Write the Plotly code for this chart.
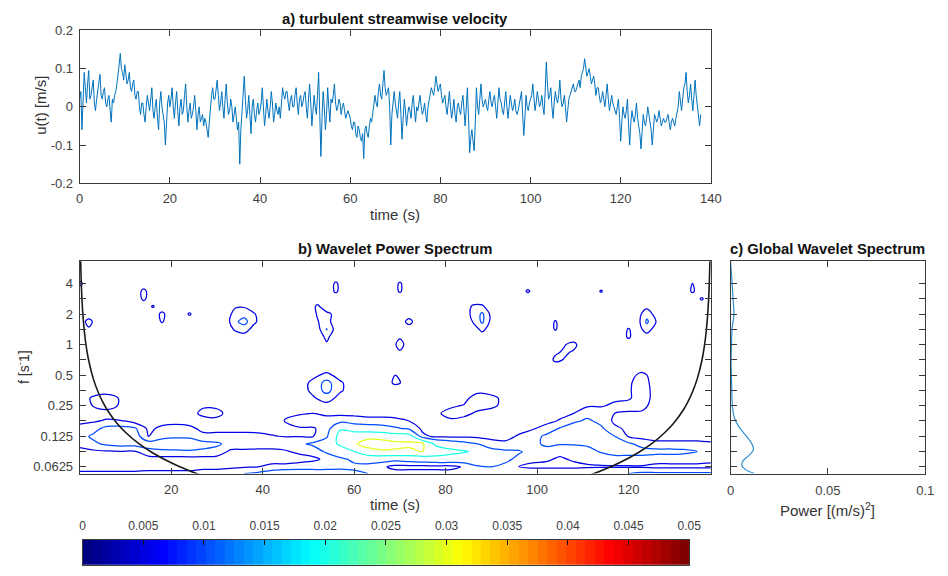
import numpy as np
import plotly.graph_objects as go

W, H = 948, 576

# ---------------- panel a: turbulent streamwise velocity (mm/s) ----------------
# samples at t = 0, 0.5, 1.0, ... s
u_mm_whole = [
    20, -60, 90, 10, 95, 30, 70, -10, 40, 85, 20, 50, 0, 30, -40, 10, 40, 80, 140, 90,
    110, 60, 90, 40, 70, 20, 40, -20, 10, -40, 30, -10, 50, -30, 20, -60, 40, -20, -100, 10,
    0, 50, -30, 40, -50, 20, -10, 60, -40, 10, -20, 30, -60, 0, -30, -50, -40, -80, 10, 50,
    20, 70, -10, 40, -30, 60, -20, 20, -40, 0, -60, -150, -20, 80, -30, 30, -70, 20, -40, 10,
    -10, 50, -50, 20, -30, 40, -40, 10, -20, -30, 50, 20, 40, -10, 30, 0, 50, -20, 30, 10,
    40, -30, 60, -50, 30, -20, 90, -130, 40, -60, 50, -40, 10, 60, -10, 20, -20, 10, -30, -10,
    -30, -60, -40, -80, -60, -90, -135, -50, -80, -30, -20, 30, 0, 60, 20, 95, 30, 50, -100, 20,
    10, -30, 40, -85, 20, -50, 0, -30, 30, -40, -10, 30, -20, 10, -40, 20, 50, 30, 80, 40,
    60, 10, 30, -20, 40, -30, 20, -40, 10, -20, 30, -50, 50, -120, -60, -115, 50, -20, 60, 0,
    20, -10, 40, 0, 30, -30, 50, 10, -20, 40, -30, 30, -10, 20, -20, 10, 40, -75, 30, -10,
    20, 60, -10, 40, 0, 30, -20, 117, 20, 50, -30, 40, 10, 70, 0, 30, -40, 20, 40, 60,
    40, 60, 50, 90, 126, 80, 100, 60, 80, 30, 50, 10, 40, 0, 60, -10, 30, 0, -20, 20,
    -90, 0, -30, 20, -100, -10, -40, 10, -50, -110, -20, -50, 0, -40, -100, -20, -40, -10, -50, -30,
    -40, -20, -60, -30, -50, -10, 40, -10, 50, 90, 10, 60, -10, 70, 0, -50,
]
# samples at t = 0.25, 0.75, 1.25, ... s
u_mm_half = [
    40, 30, 50, 60, 20, 50, 10, 20, 60, 30, 40, 10, 20, -10, 20, 30, 60, 110, 100, 70,
    80, 70, 50, 60, 30, 40, 0, 10, -20, 0, 10, 20, -10, 0, -30, 10, 0, -40, -20, 30,
    20, 0, 10, -10, 0, -20, 30, 0, -10, -30, 0, -10, -20, -40, -20, -30, -60, -40, 30, 20,
    40, 30, 10, 0, 20, 10, -10, 0, -20, -30, -40, -60, 30, 20, -10, -20, 0, -20, -10, -20,
    10, 0, -20, -10, 0, 10, -20, -10, 0, 10, 30, 40, 10, 20, 0, 30, 10, 20, 0, 30,
    0, 20, 10, -10, 0, 30, -20, -30, 0, -20, 0, 20, 30, 10, 0, 10, 0, -10, -20, -20,
    -50, -40, -70, -50, -80, -70, -60, -70, -50, -40, 0, 10, 40, 30, 60, 50, 40, 0, -20, 40,
    -10, 10, -20, -30, -10, -20, -10, 10, -10, 0, 10, 0, -10, -20, 0, 30, 40, 50, 60, 50,
    30, 20, 0, 10, 0, -10, -20, 0, -10, 10, -10, 0, -30, -80, -90, -40, 0, 20, 20, 10,
    0, 20, 10, 20, 0, 10, 20, -10, 10, 0, 0, 10, 0, -10, -10, 20, -20, -30, 0, 10,
    30, 20, 10, 20, 10, 0, 40, 60, 30, 0, 10, 20, 30, 20, 10, 0, -10, 30, 50, 40,
    50, 70, 80, 100, 100, 90, 80, 70, 60, 50, 30, 20, 20, 30, 20, 10, 10, -10, 0, -30,
    -40, -20, -10, -50, -40, -30, -20, -30, -70, -60, -40, -30, -20, -60, -50, -30, -30, -30, -40, -40,
    -30, -40, -40, -40, -30, 0, 10, 20, 60, 40, 30, 20, 30, 30, -20, -20,
]
u_dt = 0.25

# ---------------- panel b: wavelet power (units of 0.001 (m/s)^2) ----------------
log2_f_low = [-4.22, -4.0, -3.75, -3.5, -3.25, -3.0, -2.75, -2.5, -2.25, -2.0, -1.75, -1.5, -1.25, -1.0, -0.75]
t_low = list(range(0, 139, 3))
power_low_cols = [
    [6, 3, 2.5, 3.5, 6.5, 8, 6.5, 4, 3, 3, 3.5, 3, 3, 3, 3],
    [6, 3, 2.5, 4, 9, 11, 8, 4.5, 3.5, 5.2, 5.5, 3.5, 3, 3, 3],
    [6, 3, 2.5, 4.5, 11, 13, 12, 5.5, 3.5, 6.5, 7, 3, 3, 3, 3],
    [6, 3, 2.5, 4.8, 12, 14, 12, 5.2, 3.5, 4.5, 4.5, 3, 3, 3, 3],
    [6, 3, 2.5, 4.5, 12, 13.5, 11, 3, 3, 3, 3, 3, 3, 3, 3],
    [6.5, 3, 3, 8, 13, 4.5, 4, 3.5, 3, 3, 3, 3, 3, 3, 3],
    [6.5, 3, 3, 9, 13, 8.5, 6, 3.5, 3, 3, 3, 3, 3, 3, 3],
    [6.5, 3, 3, 9, 13.5, 9, 7, 3.5, 3, 3, 3, 3, 3, 3, 3],
    [6.5, 3, 3, 9.5, 13, 9, 6, 3.5, 3.5, 3, 3, 3, 3, 3, 3],
    [8, 3, 3, 9, 12, 6, 4, 3.5, 6, 4.5, 3, 3, 3, 3, 3],
    [8.5, 3, 3, 8, 11, 6, 4, 3.5, 6.5, 4, 3, 3, 3, 3, 3],
    [9.5, 3.5, 3, 4, 8, 6, 4, 3.5, 3, 3, 3, 3, 3, 3, 3],
    [10, 4.5, 2.5, 4, 7.5, 6, 4, 3, 3, 3, 3, 3, 3, 3, 3],
    [11, 5, 2.5, 4, 7, 5.8, 4, 3, 3, 3, 3, 3, 3, 3, 3],
    [13, 6.5, 2.5, 4, 7, 5.2, 4, 3, 3, 3, 3, 3, 3, 3, 3],
    [14, 7, 2, 4.5, 7.5, 4.8, 4, 5.2, 4.5, 3, 3, 3, 3, 3, 3],
    [14, 7.5, 3, 6, 9, 4.8, 4.5, 7, 4.5, 3.5, 3, 3, 3, 3, 3],
    [13, 8, 4, 7, 11, 4.8, 4.5, 7.5, 5, 3.5, 4.5, 6, 6, 4, 3],
    [13, 8, 6, 11, 14, 9, 7, 7, 4, 3.5, 7, 12, 12, 6, 3],
    [12, 9, 9, 14, 22, 24, 19, 8, 4, 3, 3.5, 5.5, 5.5, 3.5, 3],
    [11, 9, 11, 20, 29, 27, 15, 7, 4, 3, 3, 3, 3, 3, 3],
    [10, 8, 13, 27, 33, 28, 14, 6.5, 3.5, 3, 3, 3, 3, 3, 3],
    [9, 6, 13, 29, 33.5, 27, 13, 6.5, 3.5, 3, 3, 3, 3, 3, 3],
    [7, 3.5, 12, 29, 32, 25, 11, 6, 3.5, 3, 3, 3, 5.6, 5, 3],
    [7, 3.5, 13, 28, 32, 24, 9, 5, 3.5, 3, 3, 3, 4, 3.5, 3],
    [7, 3.5, 14, 30, 31, 6, 4, 3.5, 3, 3, 3, 3, 3, 3, 3],
    [7, 3.5, 15, 27, 17, 4, 3.5, 3.5, 4.5, 3, 3, 3, 3, 3, 3],
    [7, 3.5, 15, 23, 14, 4, 3.5, 4.5, 6, 4.5, 3, 3, 3, 3, 3],
    [8, 5.5, 14, 21, 12, 4, 3.5, 4, 5.8, 5.2, 4, 3, 3, 3, 3],
    [10, 9, 17, 18, 10, 4, 3.5, 3.5, 4.5, 6, 6.5, 4, 3, 3, 3],
    [10, 10, 13, 12, 7, 3.5, 3, 3, 3.5, 5.8, 6, 3.5, 3, 3, 3],
    [9, 9, 11, 11, 6, 3.5, 3, 3, 3, 4, 4, 3, 3, 3, 3],
    [8, 5, 9, 10.5, 7, 5.5, 3.5, 3, 3, 3, 3, 3, 3, 3, 3],
    [9, 4, 6, 8.5, 8.5, 8, 4.5, 3, 3, 3, 3, 3, 3, 3, 3],
    [9, 4, 5.5, 8, 11, 11, 7, 3.5, 3, 3, 3, 3, 3, 3, 3],
    [9, 4, 4.5, 6, 10.5, 13, 10.5, 5.5, 3.5, 3, 3, 3, 3, 3, 3],
    [9, 4, 5.5, 7, 10.5, 13, 13, 9, 5, 3.5, 3, 3, 3, 3, 3],
    [9, 4.5, 6, 8, 11, 12, 13, 11, 8, 4.5, 3, 3, 3, 3, 3],
    [10, 4.5, 7, 10.5, 11.5, 12, 11, 8.5, 8, 4.5, 3, 3, 3, 3, 3],
    [10, 4.5, 8, 12, 12, 10, 6, 4, 5, 6, 4, 3, 3, 3, 3],
    [10, 4.5, 8, 12, 11, 4.5, 4, 4, 4.5, 6.5, 4.5, 4.5, 4.5, 4, 3],
    [11, 4.5, 8, 12, 8, 3.5, 3.5, 3.5, 4.5, 6, 7, 7, 6.5, 5.8, 3.5],
    [11, 4, 6.5, 12, 6, 3.5, 3, 3, 3, 3.5, 3.5, 3.5, 3.5, 3.5, 3],
    [11, 4, 6.5, 12, 6, 3.5, 3, 3, 3, 3, 3, 3, 3, 3, 3],
    [11, 4, 6.5, 11.5, 6, 3.5, 3, 3, 3, 3, 3, 3, 3, 3, 3],
    [11, 4, 6.5, 10, 6, 3.5, 3, 3, 3, 3, 3, 3, 3, 3, 3],
    [11, 4, 6, 9, 5.5, 3.5, 3, 3, 3, 3, 3, 3, 3, 3, 3],
]

log2_f_high = [-0.75, -0.5, -0.25, 0.0, 0.25, 0.5, 0.75, 1.0, 1.25, 1.5, 1.75, 2.0, 2.25, 2.5, 2.73]
t_high = list(range(0, 139, 2))
power_high_background = 3.0
high_peaks = [
    (0, 2.0, 6.0),
    (2, 0.75, 6.2), (2, 0.5, 4.5),
    (14, 1.75, 5.8), (14, 1.5, 5.6),
    (16, 1.25, 5.3),
    (18, 1.0, 5.8), (18, 0.75, 5.3),
    (24, 1.0, 5.4),
    (32, 0.75, 2.5),
    (34, 1.25, 4.5), (34, 1.0, 6.5), (34, 0.75, 9.0), (34, 0.5, 5.5),
    (36, 1.25, 4.5), (36, 1.0, 8.0), (36, 0.75, 12.0), (36, 0.5, 7.0),
    (38, 1.0, 5.5), (38, 0.75, 6.0), (38, 0.5, 3.5),
    (52, 1.25, 5.6), (52, 1.0, 5.3), (52, 0.75, 4.8),
    (54, 1.25, 3.0), (54, 1.0, 5.8), (54, 0.75, 6.5), (54, 0.5, 10.3), (54, 0.25, 5.8), (54, 0.0, 4.5),
    (56, 2.0, 5.5), (56, 1.75, 5.5), (56, 1.0, 4.2),
    (70, 2.0, 5.4), (70, 1.75, 5.4),
    (70, 0.25, 4.5), (70, 0.0, 6.5), (70, -0.25, 4.5),
    (72, 0.75, 6.3),
    (86, 1.25, 5.5), (86, 1.0, 6.0), (86, 0.75, 5.2),
    (88, 1.25, 5.5), (88, 1.0, 11.0), (88, 0.75, 11.0), (88, 0.5, 6.0),
    (90, 1.0, 3.5), (90, 0.75, 3.5),
    (98, 1.75, 5.5),
    (104, 0.75, 5.3), (104, 0.5, 5.3),
    (104, -0.25, 4.5), (104, -0.5, 5.7),
    (106, 0.0, 4.8), (106, -0.25, 5.5), (106, -0.5, 4.8),
    (108, 0.0, 6.0), (108, -0.25, 4.6),
    (114, 1.75, 5.3),
    (120, 0.5, 5.3), (120, 0.25, 5.5),
    (122, 0.75, 3.0),
    (124, 1.25, 3.5), (124, 1.0, 8.0), (124, 0.75, 11.0), (124, 0.5, 7.0), (124, 0.25, 3.0),
    (126, 0.75, 5.0),
    (134, 2.0, 5.1), (134, 1.75, 5.5),
    (136, 1.5, 5.4),
]
contour_levels = [0.005, 0.01, 0.02, 0.03]

coi_left_t = [0.2, 0.5, 1, 1.5, 2, 3, 4, 5, 6, 8, 10, 13, 16, 20, 24, 27]
coi_left_f = [6.85, 2.74, 1.37, 0.913, 0.685, 0.457, 0.343, 0.274, 0.228, 0.171, 0.137, 0.105, 0.0856, 0.0685, 0.0571, 0.0507]
coi_right_t = [137.8, 137.5, 137, 136.5, 136, 135, 134, 133, 132, 130, 128, 125, 122, 118, 114, 111]
coi_right_f = [6.85, 2.74, 1.37, 0.913, 0.685, 0.457, 0.343, 0.274, 0.228, 0.171, 0.137, 0.105, 0.0856, 0.0685, 0.0571, 0.0507]

# ---------------- panel c: global wavelet spectrum ----------------
gws_f = [6.68, 4.38, 3.03, 1.95, 1.44, 1.0, 0.693, 0.476, 0.330, 0.245, 0.189, 0.158, 0.127,
         0.105, 0.0928, 0.0813, 0.0728, 0.0652, 0.0583, 0.0540]
gws_p = [0, 0.0007, 0.0012, 0.0017, 0.0008, 0.0005, 0.0003, 0.0005, 0.0007, 0.001, 0.002, 0.004,
         0.0079, 0.011, 0.0118, 0.0096, 0.0067, 0.0057, 0.0079, 0.0121]

cbar_ticks = [0, 0.005, 0.01, 0.015, 0.02, 0.025, 0.03, 0.035, 0.04, 0.045, 0.05]
cbar_labels = ["0", "0.005", "0.01", "0.015", "0.02", "0.025", "0.03", "0.035", "0.04", "0.045", "0.05"]
cbar_max = 0.05

f_major_log2 = [-4, -3, -2, -1, 0, 1, 2]
f_major_labels = ["0.0625", "0.125", "0.25", "0.5", "1", "2", "4"]
f_minor_log2 = [-3.5, -2.5, -1.5, -0.5, 0.5, 1.5]

# ---------------- helpers ----------------
def jet(v):
    r = min(max(1.5 - abs(4 * v - 3), 0), 1)
    g = min(max(1.5 - abs(4 * v - 2), 0), 1)
    b = min(max(1.5 - abs(4 * v - 1), 0), 1)
    return "rgb(%d,%d,%d)" % (round(255 * r), round(255 * g), round(255 * b))

def xd(px):
    return px / W

def yd(py):
    return 1 - py / H

FONT = "Liberation Sans, Arial, Helvetica, sans-serif"
AX = "#3a3a3a"
TICKF = dict(family=FONT, size=13, color="#404040")

fig = go.Figure()

# panel a
u = np.empty(len(u_mm_whole) + len(u_mm_half))
u[0::2] = u_mm_whole
u[1::2] = u_mm_half
u = u / 1000.0
tu = np.arange(len(u)) * u_dt
fig.add_trace(go.Scatter(x=tu, y=u, mode="lines", line=dict(color="#0072BD", width=1),
                         xaxis="x", yaxis="y", hoverinfo="skip", showlegend=False))

# panel b contours
z_low = np.array(power_low_cols, dtype=float).T * 1e-3
f_low = 2.0 ** np.array(log2_f_low)
z_high = np.full((len(log2_f_high), len(t_high)), power_high_background)
for (tp, lp, vp) in high_peaks:
    z_high[log2_f_high.index(lp), t_high.index(tp)] = vp
z_high = z_high * 1e-3
f_high = 2.0 ** np.array(log2_f_high)

for (tx, fy, zz) in [(t_low, f_low, z_low), (t_high, f_high, z_high)]:
    for lev in contour_levels:
        fig.add_trace(go.Contour(
            x=tx, y=fy, z=zz, autocontour=False,
            contours=dict(start=lev, end=lev + 1e-6, size=0.001, coloring="none", showlines=True),
            line=dict(color=jet(lev / cbar_max), width=1.25, smoothing=1),
            showscale=False, hoverinfo="skip", xaxis="x2", yaxis="y2"))

for ct, cf in [(coi_left_t, coi_left_f), (coi_right_t, coi_right_f)]:
    fig.add_trace(go.Scatter(x=ct, y=cf, mode="lines", line=dict(color="#1a1a1a", width=1.6, shape="spline"),
                             xaxis="x2", yaxis="y2", hoverinfo="skip", showlegend=False))

# panel c
fig.add_trace(go.Scatter(x=gws_p, y=gws_f, mode="lines", line=dict(color="#2f8fd0", width=1.2, shape="spline"),
                         xaxis="x3", yaxis="y3", hoverinfo="skip", showlegend=False))

# colour bar strip (64-step jet)
ncb = 64
cb_x = [(i + 0.5) * cbar_max / ncb for i in range(ncb)]
cb_scale = [[i / (ncb - 1), jet(i / (ncb - 1))] for i in range(ncb)]
fig.add_trace(go.Heatmap(x=cb_x, y=[0], z=[cb_x], colorscale=cb_scale, zmin=cb_x[0], zmax=cb_x[-1],
                         showscale=False, hoverinfo="skip", xaxis="x4", yaxis="y4"))

frange = [np.log10(2 ** -4.22), np.log10(2 ** 2.73)]
fmaj = [2.0 ** k for k in f_major_log2]
fmin = [2.0 ** k for k in f_minor_log2]
fminor = dict(tickvals=fmin, ticks="inside", ticklen=6, tickcolor=AX, showgrid=False)

common = dict(showline=True, linecolor=AX, linewidth=1, ticks="inside", ticklen=6, tickcolor=AX,
              showgrid=False, zeroline=False, tickfont=TICKF, mirror="ticks")

fig.update_layout(
    width=W, height=H, autosize=False, margin=dict(l=0, r=0, t=0, b=0, pad=0),
    paper_bgcolor="white", plot_bgcolor="white", showlegend=False,
    xaxis=dict(domain=[xd(77), xd(719)], range=[0, 140], tickvals=list(range(0, 141, 20)),
               anchor="y", ticklabelstandoff=3, **common),
    yaxis=dict(domain=[yd(181), yd(24)], range=[-0.2, 0.2], tickvals=[-0.2, -0.1, 0, 0.1, 0.2],
               ticktext=["-0.2", "-0.1", "0", "0.1", "0.2"], anchor="x", ticklabelstandoff=3, **common),
    xaxis2=dict(domain=[xd(77), xd(719)], range=[0, 138], tickvals=list(range(20, 121, 20)),
                anchor="y2", ticklabelstandoff=4, **common),
    yaxis2=dict(domain=[yd(479), yd(261)], type="log", range=frange, tickvals=fmaj, ticktext=f_major_labels,
                minor=fminor, anchor="x2", ticklabelstandoff=3, **common),
    xaxis3=dict(domain=[xd(739), xd(937)], range=[0, 0.1], tickvals=[0, 0.05, 0.1], ticktext=["0", "0.05", "0.1"],
                anchor="y3", ticklabelstandoff=5, **common),
    yaxis3=dict(domain=[yd(479), yd(261)], type="log", range=frange, tickvals=fmaj, showticklabels=False,
                minor=fminor, anchor="x3", **common),
    xaxis4=dict(domain=[xd(80), xd(697)], range=[0, cbar_max], tickvals=cbar_ticks, ticktext=cbar_labels,
                side="top", anchor="y4", showline=True, linecolor=AX, linewidth=1, mirror=True,
                ticks="inside", ticklen=5, tickcolor="#111111", showgrid=False, zeroline=False,
                tickfont=dict(family=FONT, size=12, color="#404040"), ticklabelstandoff=4),
    yaxis4=dict(domain=[yd(573), yd(547)], range=[-0.5, 0.5], showticklabels=False, ticks="",
                showline=True, linecolor=AX, linewidth=1, mirror=True, showgrid=False, zeroline=False, anchor="x4"),
)

def ann(text, px, py, size=15, bold=False, angle=0, color="#333333"):
    fig.add_annotation(text=("<b>%s</b>" % text) if bold else text, x=xd(px), y=yd(py), xref="paper", yref="paper",
                       showarrow=False, xanchor="center", yanchor="middle", textangle=angle,
                       font=dict(family=FONT, size=size, color=color))

ann("a) turbulent streamwise velocity", 398, 12, size=14.8, bold=True, color="#111111")
ann("time (s)", 398, 213, size=15)
ann("u(t) [m/s]", 37, 101, size=15, angle=-90)
ann("b) Wavelet Power Spectrum", 398, 248, size=14.8, bold=True, color="#111111")
ann("time (s)", 398, 511, size=15)
ann("f [s<sup>-</sup>1]", 20, 370, size=14, angle=-90)
ann("c) Global Wavelet Spectrum", 838, 248, size=14.8, bold=True, color="#111111")
ann("Power [(m/s)<sup>2</sup>]", 838, 516, size=15)

fig.write_html("out.html", config={"displayModeBar": False})
